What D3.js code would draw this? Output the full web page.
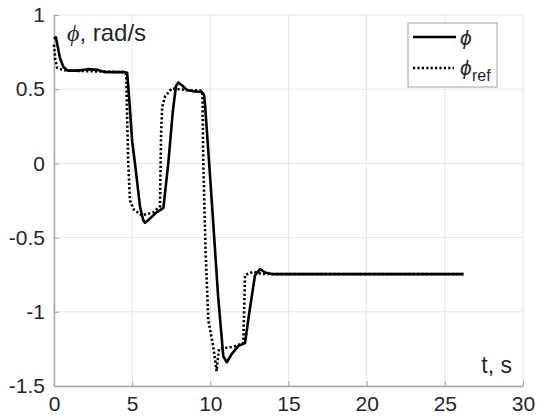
<!DOCTYPE html>
<html>
<head>
<meta charset="utf-8">
<script src="https://cdn.jsdelivr.net/npm/d3@7"></script>
<style>
  body { margin: 0; background: #fff; }
  svg text { font-family: "Liberation Sans", Arial, sans-serif; fill: #262626; }
</style>
</head>
<body>
<svg id="chart"></svg>
<script>
// time (s) and roll rate phi (rad/s)
const phiT = [0, 0.12, 0.38, 0.6, 0.9, 1.5, 2.2, 2.8, 3.3, 4.5, 4.68, 4.8, 5.0, 5.18, 5.5, 5.7, 5.82, 6.0, 6.56, 7.0,
  7.1, 7.31, 7.6, 7.8, 7.95, 8.2, 8.49, 9.0, 9.45, 9.6, 9.66, 10.09, 10.5, 10.83, 11.05, 11.4, 11.8, 12.22, 12.5,
  12.86, 13.18, 13.5, 13.93, 26.2];
const phiV = [0.84, 0.85, 0.71, 0.65, 0.625, 0.625, 0.635, 0.63, 0.615, 0.615, 0.61, 0.45, 0.15, 0.0, -0.29, -0.38, -0.40, -0.385, -0.33, -0.30,
  -0.20, 0.0, 0.35, 0.52, 0.545, 0.525, 0.495, 0.485, 0.483, 0.46, 0.40, -0.25, -0.90, -1.30, -1.34, -1.28, -1.23, -1.21, -1.00,
  -0.753, -0.712, -0.735, -0.746, -0.746];

// reference signal phi_ref
const refT = [0, 0.08, 0.2, 0.6, 1.0, 4.5, 4.62, 4.68, 4.75, 4.86, 5.1, 5.61, 6.35, 6.78, 6.85, 6.92, 7.1, 7.53, 8.0, 8.49,
  9.45, 9.5, 9.55, 9.7, 9.87, 10.19, 10.3, 10.4, 10.55, 11.5, 12.11, 12.16, 12.22, 12.75, 13.3, 26.2];
const refV = [0.80, 0.70, 0.645, 0.628, 0.625, 0.615, 0.60, 0.3, 0.0, -0.25, -0.31, -0.35, -0.33, -0.29, 0.2, 0.38, 0.45, 0.505, 0.50, 0.494,
  0.49, 0.45, 0.0, -0.6, -1.056, -1.236, -1.32, -1.40, -1.25, -1.235, -1.21, -1.0, -0.753, -0.73, -0.745, -0.745];

const xTicks = [0, 5, 10, 15, 20, 25, 30];
const yTicks = [-1.5, -1, -0.5, 0, 0.5, 1];

const W = 537, H = 419;
const margin = {top: 15, right: 14, bottom: 33, left: 54};
const width = W - margin.left - margin.right;
const height = H - margin.top - margin.bottom;

const svg = d3.select("#chart").attr("width", W).attr("height", H);
svg.append("rect").attr("width", W).attr("height", H).attr("fill", "#fff");

const g = svg.append("g").attr("transform", `translate(${margin.left},${margin.top})`);

const x = d3.scaleLinear().domain([0, 30]).range([0, width]);
const y = d3.scaleLinear().domain([-1.5, 1]).range([height, 0]);

// grid
g.append("g").selectAll("line").data(xTicks).join("line")
  .attr("x1", d => x(d)).attr("x2", d => x(d)).attr("y1", 0).attr("y2", height)
  .attr("stroke", "#e6e6e6").attr("stroke-width", 1);
g.append("g").selectAll("line").data(yTicks).join("line")
  .attr("y1", d => y(d)).attr("y2", d => y(d)).attr("x1", 0).attr("x2", width)
  .attr("stroke", "#e6e6e6").attr("stroke-width", 1);

// axes (plain hyphen for negatives, like the original)
const xAxis = d3.axisBottom(x).tickValues(xTicks).tickSizeInner(-5).tickSizeOuter(0).tickPadding(10);
const yAxis = d3.axisLeft(y).tickValues(yTicks).tickSizeInner(-5).tickSizeOuter(0).tickPadding(9)
  .tickFormat(d => String(d));

const gx = g.append("g").attr("transform", `translate(0,${height})`).call(xAxis);
const gy = g.append("g").call(yAxis);
[gx, gy].forEach(a => {
  a.select(".domain").attr("stroke", "#a6a6a6").attr("stroke-width", 1.5);
  a.selectAll(".tick line").attr("stroke", "#a6a6a6");
  a.selectAll(".tick text").attr("font-size", 21).attr("fill", "#262626")
    .attr("font-family", "Liberation Sans, Arial, sans-serif");
});

// curves
const line = d3.line().x(d => x(d[0])).y(d => y(d[1]));
const phiData = phiT.map((t, i) => [t, phiV[i]]);
const refData = refT.map((t, i) => [t, refV[i]]);

g.append("path").datum(phiData).attr("d", line)
  .attr("fill", "none").attr("stroke", "#000").attr("stroke-width", 2.6)
  .attr("stroke-linejoin", "round");
g.append("path").datum(refData).attr("d", line)
  .attr("fill", "none").attr("stroke", "#000").attr("stroke-width", 2.6)
  .attr("stroke-dasharray", "2.2,2.2");

// axis labels
const lab = svg.append("text").attr("x", 67).attr("y", 41).attr("font-size", 24);
lab.append("tspan").attr("font-family", "Liberation Serif, DejaVu Serif, serif").attr("font-style", "italic").text("ϕ");
lab.append("tspan").text(", rad/s");
svg.append("text").attr("x", 512).attr("y", 373).attr("text-anchor", "end").attr("font-size", 23).text("t, s");

// legend
const lg = svg.append("g").attr("transform", "translate(408,23)");
lg.append("rect").attr("width", 89).attr("height", 64)
  .attr("fill", "#fff").attr("stroke", "#a0a0a0").attr("stroke-width", 1);
lg.append("line").attr("x1", 5).attr("x2", 48).attr("y1", 14).attr("y2", 14)
  .attr("stroke", "#000").attr("stroke-width", 2.6);
lg.append("line").attr("x1", 5).attr("x2", 46).attr("y1", 45).attr("y2", 45)
  .attr("stroke", "#000").attr("stroke-width", 2.6).attr("stroke-dasharray", "2.2,2.2");
lg.append("text").attr("x", 52).attr("y", 22).attr("font-size", 21)
  .attr("font-family", "Liberation Serif, DejaVu Serif, serif").attr("font-style", "italic").text("ϕ");
lg.append("text").attr("x", 52).attr("y", 52).attr("font-size", 21)
  .attr("font-family", "Liberation Serif, DejaVu Serif, serif").attr("font-style", "italic").text("ϕ");
lg.append("text").attr("x", 64).attr("y", 58).attr("font-size", 16).text("ref");
</script>
</body>
</html>
